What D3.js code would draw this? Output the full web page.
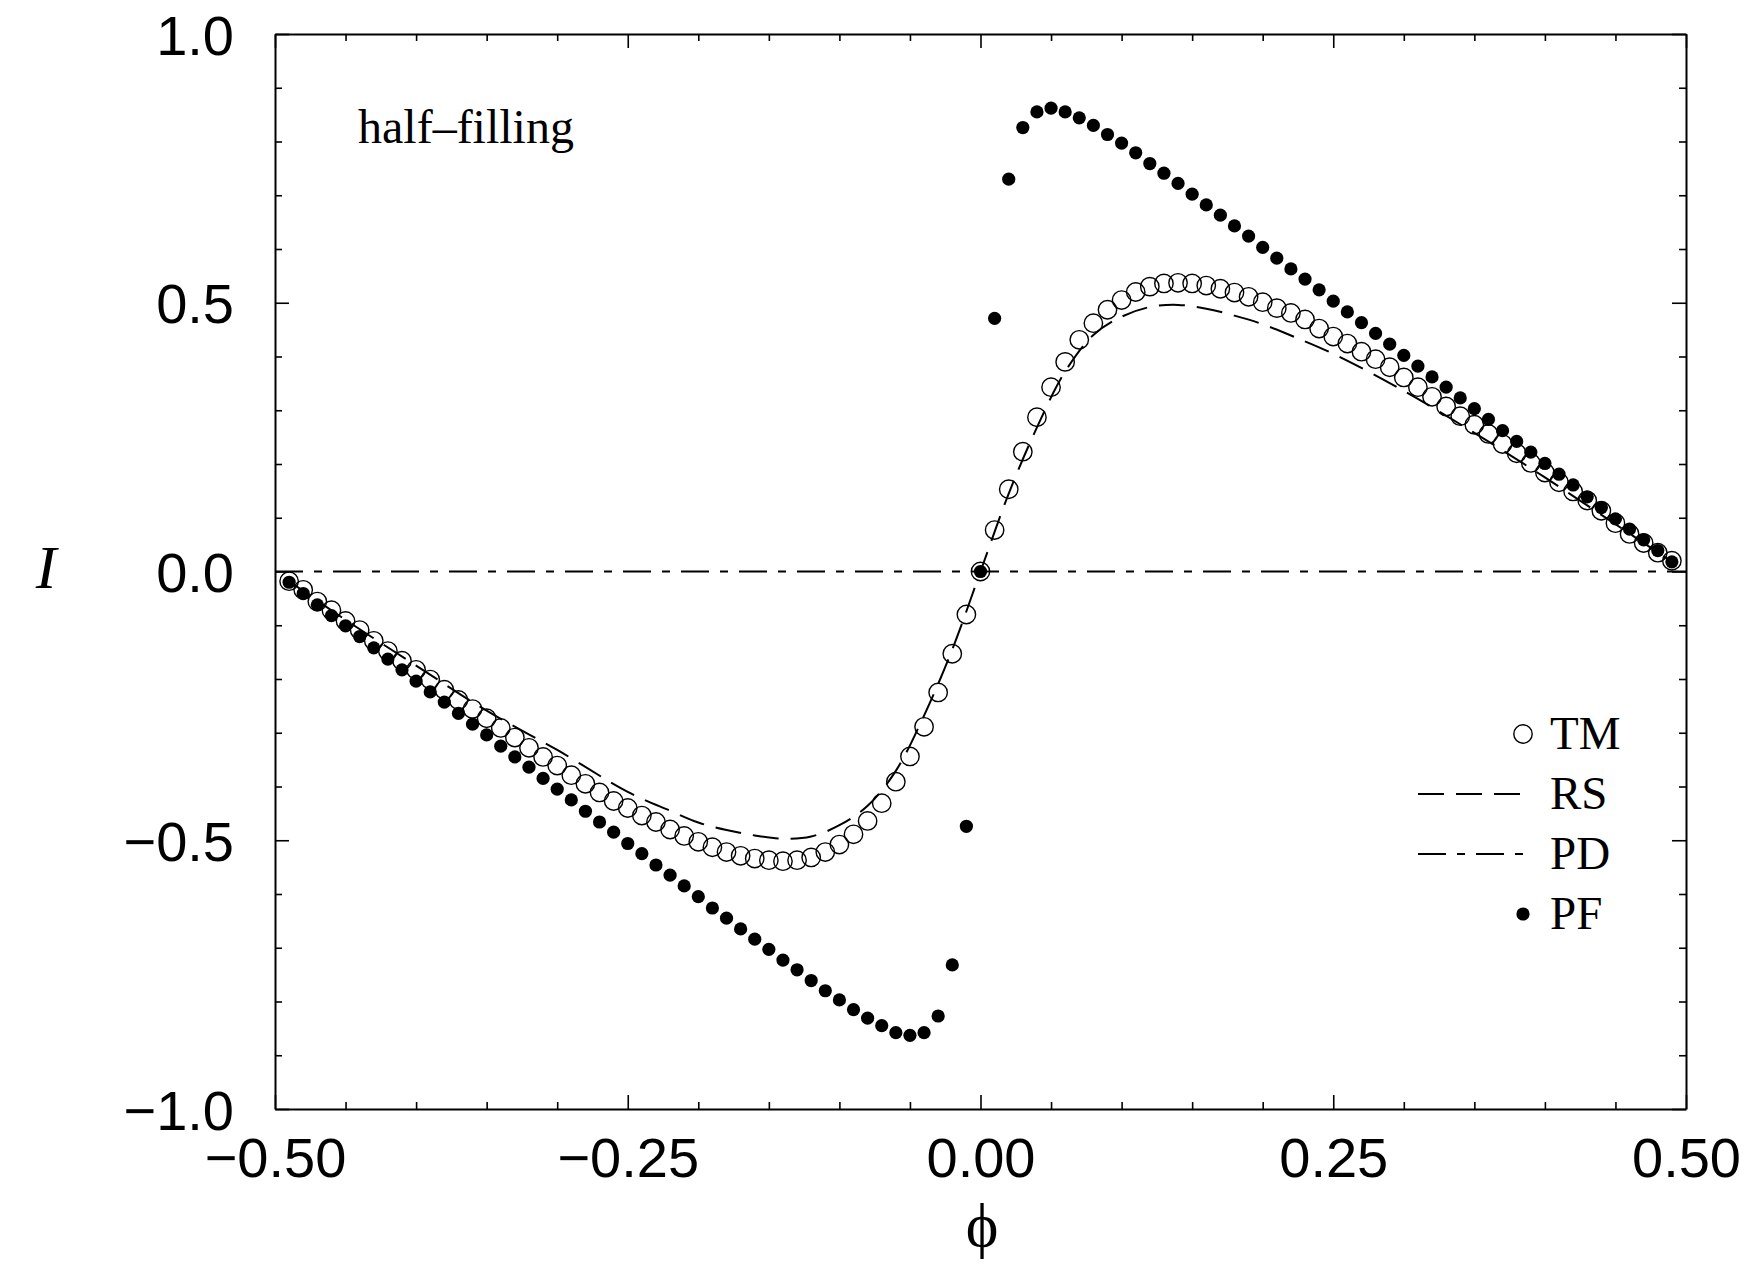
<!DOCTYPE html>
<html>
<head>
<meta charset="utf-8">
<script src="https://cdn.jsdelivr.net/npm/d3@7"></script>
<style>
  html, body { margin: 0; padding: 0; background: #fff; }
  svg { display: block; }
</style>
</head>
<body>
<svg id="chart" width="1748" height="1269"></svg>
<script>
// ---------------- data ----------------
const phi = [
  -0.49,-0.48,-0.47,-0.46,-0.45,-0.44,-0.43,-0.42,-0.41,-0.40,
  -0.39,-0.38,-0.37,-0.36,-0.35,-0.34,-0.33,-0.32,-0.31,-0.30,
  -0.29,-0.28,-0.27,-0.26,-0.25,-0.24,-0.23,-0.22,-0.21,-0.20,
  -0.19,-0.18,-0.17,-0.16,-0.15,-0.14,-0.13,-0.12,-0.11,-0.10,
  -0.09,-0.08,-0.07,-0.06,-0.05,-0.04,-0.03,-0.02,-0.01,0.00,
  0.01,0.02,0.03,0.04,0.05,0.06,0.07,0.08,0.09,
  0.10,0.11,0.12,0.13,0.14,0.15,0.16,0.17,0.18,0.19,
  0.20,0.21,0.22,0.23,0.24,0.25,0.26,0.27,0.28,0.29,
  0.30,0.31,0.32,0.33,0.34,0.35,0.36,0.37,0.38,0.39,
  0.40,0.41,0.42,0.43,0.44,0.45,0.46,0.47,0.48,0.49
];

const tmI = [
  -0.018,-0.034,-0.056,-0.072,-0.092,-0.109,-0.129,-0.148,-0.166,-0.183,
  -0.201,-0.220,-0.239,-0.256,-0.273,-0.291,-0.309,-0.328,-0.345,-0.361,
  -0.379,-0.395,-0.411,-0.427,-0.440,-0.454,-0.466,-0.480,-0.492,-0.503,
  -0.513,-0.522,-0.529,-0.534,-0.537,-0.539,-0.537,-0.532,-0.522,-0.508,
  -0.489,-0.464,-0.431,-0.391,-0.344,-0.289,-0.225,-0.153,-0.080,0.000,
  0.077,0.153,0.223,0.287,0.343,0.390,0.431,0.462,0.487,
  0.505,0.520,0.530,0.536,0.537,0.536,0.532,0.526,0.519,0.511,
  0.501,0.490,0.481,0.469,0.452,0.437,0.424,0.409,0.395,0.380,
  0.361,0.343,0.325,0.307,0.289,0.273,0.256,0.237,0.220,0.202,
  0.184,0.166,0.149,0.132,0.113,0.090,0.070,0.053,0.035,0.020
];

const pfI = [
  -0.020,-0.041,-0.062,-0.082,-0.101,-0.121,-0.142,-0.163,-0.183,-0.204,
  -0.224,-0.243,-0.264,-0.284,-0.304,-0.325,-0.345,-0.364,-0.385,-0.405,
  -0.425,-0.446,-0.466,-0.485,-0.506,-0.525,-0.546,-0.565,-0.585,-0.605,
  -0.626,-0.645,-0.665,-0.684,-0.703,-0.723,-0.741,-0.761,-0.780,-0.797,
  -0.815,-0.831,-0.845,-0.858,-0.863,-0.858,-0.827,-0.732,-0.474,0.000,
  0.471,0.730,0.826,0.855,0.862,0.855,0.844,0.830,0.813,
  0.797,0.779,0.759,0.741,0.722,0.702,0.682,0.663,0.643,0.624,
  0.603,0.583,0.563,0.544,0.524,0.503,0.483,0.463,0.443,0.423,
  0.402,0.382,0.362,0.343,0.323,0.303,0.283,0.262,0.242,0.222,
  0.201,0.181,0.161,0.139,0.119,0.098,0.079,0.059,0.039,0.018
];

const rsPhi = [-0.49,-0.45,-0.40,-0.35,-0.30,-0.25,-0.22,-0.20,-0.18,-0.16,-0.14,-0.12,-0.10,-0.08,-0.06,-0.04,-0.02,0.00,
               0.02,0.04,0.06,0.08,0.10,0.12,0.14,0.16,0.18,0.20,0.22,0.25,0.30,0.35,0.40,0.45,0.49];
const rsI   = [-0.018,-0.090,-0.175,-0.259,-0.332,-0.410,-0.445,-0.467,-0.481,-0.491,-0.497,-0.493,-0.472,-0.436,-0.371,-0.268,-0.145,0.000,
               0.145,0.268,0.372,0.440,0.474,0.492,0.496,0.489,0.476,0.460,0.439,0.405,0.336,0.258,0.175,0.088,0.018];

const pdPhi = [-0.5, 0.5];
const pdI   = [0.0, 0.0];

const xMajorTicks = [-0.5,-0.25,0,0.25,0.5];
const xMinorTicks = [-0.45,-0.4,-0.35,-0.3,-0.2,-0.15,-0.1,-0.05,0.05,0.1,0.15,0.2,0.3,0.35,0.4,0.45];
const yMajorTicks = [-1,-0.5,0,0.5,1];
const yMinorTicks = [-0.9,-0.8,-0.7,-0.6,-0.4,-0.3,-0.2,-0.1,0.1,0.2,0.3,0.4,0.6,0.7,0.8,0.9];

const legendLabels = ["TM","RS","PD","PF"];
const annotation = "half\u2013filling";
const xTitle = "\u03d5";
const yTitle = "I";

// ---------------- layout ----------------
const L = 275, R = 1686, T = 34, B = 1109;
const svg = d3.select("#chart");
const x = d3.scaleLinear().domain([-0.5, 0.5]).range([L, R]);
const y = d3.scaleLinear().domain([-1, 1]).range([B, T]);

const tickFont = "'Liberation Sans', Arial, Helvetica, sans-serif";
const serif = "'Liberation Serif', 'Times New Roman', serif";
const fmtX = d3.format(".2f");
const fmtY = d3.format(".1f");

function styleAxis(g) {
  g.selectAll("path.domain").attr("stroke", "#000").attr("stroke-width", 2);
  g.selectAll(".tick line").attr("stroke", "#000").attr("stroke-width", 1.6);
  g.selectAll(".tick text").attr("fill", "#000").style("font-family", tickFont).style("font-size", "56px");
}

// bottom
svg.append("g").attr("transform", `translate(0,${B})`)
  .call(d3.axisBottom(x).tickValues(xMajorTicks).tickSizeInner(-14).tickSizeOuter(0).tickPadding(28).tickFormat(fmtX))
  .call(styleAxis);
svg.append("g").attr("transform", `translate(0,${B})`)
  .call(d3.axisBottom(x).tickValues(xMinorTicks).tickSizeInner(-7).tickSizeOuter(0).tickFormat(""))
  .call(styleAxis).call(g => g.select("path.domain").remove());
// top
svg.append("g").attr("transform", `translate(0,${T})`)
  .call(d3.axisTop(x).tickValues(xMajorTicks).tickSizeInner(-14).tickSizeOuter(0).tickFormat(""))
  .call(styleAxis);
svg.append("g").attr("transform", `translate(0,${T})`)
  .call(d3.axisTop(x).tickValues(xMinorTicks).tickSizeInner(-7).tickSizeOuter(0).tickFormat(""))
  .call(styleAxis).call(g => g.select("path.domain").remove());
// left
svg.append("g").attr("transform", `translate(${L},0)`)
  .call(d3.axisLeft(y).tickValues(yMajorTicks).tickSizeInner(-14).tickSizeOuter(0).tickPadding(41).tickFormat(fmtY))
  .call(styleAxis)
  .call(g => g.selectAll(".tick text").attr("dy", "0.36em"));
svg.append("g").attr("transform", `translate(${L},0)`)
  .call(d3.axisLeft(y).tickValues(yMinorTicks).tickSizeInner(-7).tickSizeOuter(0).tickFormat(""))
  .call(styleAxis).call(g => g.select("path.domain").remove());
// right
svg.append("g").attr("transform", `translate(${R},0)`)
  .call(d3.axisRight(y).tickValues(yMajorTicks).tickSizeInner(-14).tickSizeOuter(0).tickFormat(""))
  .call(styleAxis);
svg.append("g").attr("transform", `translate(${R},0)`)
  .call(d3.axisRight(y).tickValues(yMinorTicks).tickSizeInner(-7).tickSizeOuter(0).tickFormat(""))
  .call(styleAxis).call(g => g.select("path.domain").remove());

// ---------------- series ----------------
const line = d3.line().x(d => x(d[0])).y(d => y(d[1]));

// PD dash-dot
svg.append("path")
  .datum(pdPhi.map((p, i) => [p, pdI[i]]))
  .attr("d", line)
  .attr("fill", "none").attr("stroke", "#000").attr("stroke-width", 2)
  .attr("stroke-dasharray", "28,11,8,11");

// RS dashed
svg.append("path")
  .datum(rsPhi.map((p, i) => [p, rsI[i]]))
  .attr("d", line.curve(d3.curveCatmullRom.alpha(0.5)))
  .attr("fill", "none").attr("stroke", "#000").attr("stroke-width", 2)
  .attr("stroke-dasharray", "26,12");

// TM open circles
svg.append("g").selectAll("circle")
  .data(phi.map((p, i) => [p, tmI[i]]))
  .join("circle")
  .attr("cx", d => x(d[0])).attr("cy", d => y(d[1]))
  .attr("r", 9.2)
  .attr("fill", "none").attr("stroke", "#000").attr("stroke-width", 1.4);

// PF filled dots
svg.append("g").selectAll("circle")
  .data(phi.map((p, i) => [p, pfI[i]]))
  .join("circle")
  .attr("cx", d => x(d[0])).attr("cy", d => y(d[1]))
  .attr("r", 6.6)
  .attr("fill", "#000");

// ---------------- texts ----------------
svg.append("text")
  .attr("x", 358).attr("y", 143)
  .style("font-family", serif).style("font-size", "48px")
  .text(annotation);

svg.append("text")
  .attr("x", 46).attr("y", 588).attr("text-anchor", "middle")
  .style("font-family", serif).style("font-style", "italic").style("font-size", "62px")
  .text(yTitle);

svg.append("text")
  .attr("x", 982).attr("y", 1246).attr("text-anchor", "middle")
  .style("font-family", "'Liberation Serif', 'DejaVu Serif', serif").style("font-size", "62px")
  .text(xTitle);

// ---------------- legend ----------------
const legX = 1550, legY0 = 749, legStep = 60;
const lg = svg.append("g");
legendLabels.forEach((lab, i) => {
  const base = legY0 + i * legStep;
  const cy = base - 15;
  if (lab === "TM") {
    lg.append("circle").attr("cx", 1523).attr("cy", cy).attr("r", 9.2)
      .attr("fill", "none").attr("stroke", "#000").attr("stroke-width", 1.4);
  } else if (lab === "PF") {
    lg.append("circle").attr("cx", 1523).attr("cy", cy).attr("r", 6.6).attr("fill", "#000");
  } else {
    lg.append("line").attr("x1", 1418).attr("x2", lab === "RS" ? 1522 : 1525)
      .attr("y1", cy).attr("y2", cy)
      .attr("stroke", "#000").attr("stroke-width", 2)
      .attr("stroke-dasharray", lab === "RS" ? "26,12" : "28,11,8,11");
  }
  lg.append("text").attr("x", legX).attr("y", base)
    .style("font-family", serif).style("font-size", "47px")
    .text(lab);
});
</script>
</body>
</html>
